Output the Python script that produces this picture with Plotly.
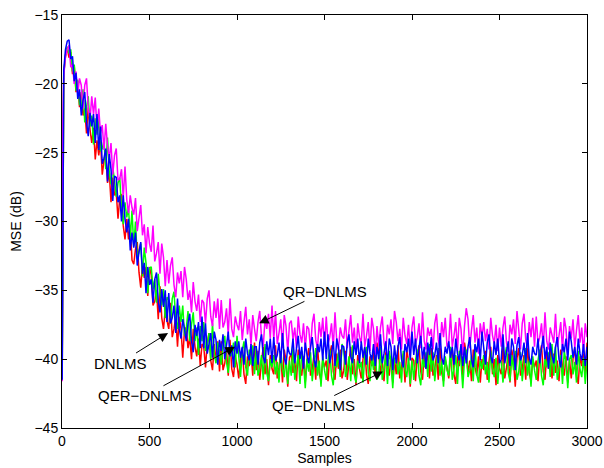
import plotly.graph_objects as go

# Sample index of each stored MSE value
SAMPLES = [1, 5] + list(range(10, 3001, 10))

# MSE learning curves in dB (one row per 100 samples after the first two points)
DNLMS = [
    -41.5, -23.0,
    -19.2, -18.0, -17.4, -18.1, -17.7, -19.3, -18.7, -20.6, -19.8, -21.7,
    -20.6, -22.3, -21.8, -23.6, -21.7, -23.3, -24.3, -23.2, -25.5, -24.1,
    -25.2, -24.2, -26.6, -25.6, -24.9, -27.2, -26.4, -28.6, -26.8, -28.1,
    -27.9, -29.8, -28.3, -28.0, -30.3, -31.3, -29.8, -31.3, -30.3, -32.8,
    -33.1, -32.0, -31.5, -33.7, -34.8, -33.1, -34.1, -33.3, -35.4, -33.3,
    -33.9, -36.1, -35.8, -35.0, -37.1, -34.7, -37.0, -37.8, -36.4, -37.2,
    -37.8, -35.9, -38.4, -37.8, -36.9, -39.1, -36.9, -37.8, -39.9, -37.9,
    -37.7, -39.2, -38.4, -40.0, -37.8, -39.1, -39.8, -38.5, -40.5, -38.9,
    -39.1, -40.6, -38.8, -38.1, -40.1, -40.8, -38.9, -40.1, -38.7, -40.9,
    -38.7, -40.8, -40.3, -39.3, -41.2, -38.6, -40.7, -41.3, -39.8, -40.4,
    -41.4, -40.0, -39.2, -41.1, -41.8, -39.8, -40.5, -39.4, -41.2, -38.8,
    -40.8, -39.4, -41.5, -40.2, -39.1, -41.1, -40.0, -41.9, -39.7, -40.7,
    -41.1, -39.0, -41.4, -40.6, -39.6, -41.7, -39.3, -40.1, -42.0, -39.9,
    -39.6, -41.0, -40.1, -41.6, -39.3, -40.6, -41.2, -39.8, -41.7, -40.0,
    -39.2, -41.2, -40.7, -39.7, -41.5, -38.9, -41.0, -41.6, -40.0, -40.6,
    -40.1, -41.6, -39.7, -39.0, -40.9, -41.5, -39.6, -40.7, -39.3, -41.4,
    -40.8, -39.4, -41.5, -40.2, -39.1, -41.1, -40.0, -41.9, -39.7, -40.7,
    -41.4, -40.0, -39.2, -41.1, -41.8, -39.8, -40.5, -39.4, -41.2, -38.8,
    -39.6, -41.0, -40.1, -41.6, -39.3, -40.6, -41.2, -39.8, -41.7, -40.0,
    -41.1, -39.0, -41.4, -40.6, -39.6, -41.7, -39.3, -40.1, -42.0, -39.9,
    -40.1, -41.6, -39.7, -39.0, -40.9, -41.5, -39.6, -40.7, -39.3, -41.4,
    -39.2, -41.2, -40.7, -39.7, -41.5, -38.9, -41.0, -41.6, -40.0, -40.6,
    -41.4, -40.0, -39.2, -41.1, -41.8, -39.8, -40.5, -39.4, -41.2, -38.8,
    -39.6, -41.0, -40.1, -41.6, -39.3, -40.6, -41.2, -39.8, -41.7, -40.0,
    -40.8, -39.4, -41.5, -40.2, -39.1, -41.1, -40.0, -41.9, -39.7, -40.7,
    -41.1, -39.0, -41.4, -40.6, -39.6, -41.7, -39.3, -40.1, -42.0, -39.9,
    -39.2, -41.2, -40.7, -39.7, -41.5, -38.9, -41.0, -41.6, -40.0, -40.6,
    -40.1, -41.6, -39.7, -39.0, -40.9, -41.5, -39.6, -40.7, -39.3, -41.4,
    -39.6, -41.0, -40.1, -41.6, -39.3, -40.6, -41.2, -39.8, -41.7, -40.0,
    -41.4, -40.0, -39.2, -41.1, -41.8, -39.8, -40.5, -39.4, -41.2, -38.8,
]

QE_DNLMS = [
    -41.4, -23.2,
    -19.3, -17.9, -17.3, -17.8, -17.5, -19.1, -18.6, -20.5, -19.7, -21.5,
    -21.6, -20.4, -22.8, -21.7, -20.9, -23.1, -22.3, -24.4, -22.5, -23.7,
    -22.5, -24.9, -24.7, -24.1, -26.2, -23.9, -26.4, -27.3, -26.1, -27.0,
    -28.2, -27.2, -26.8, -29.1, -30.2, -28.6, -29.7, -29.0, -31.2, -29.2,
    -31.8, -30.0, -32.7, -32.2, -31.6, -34.0, -31.9, -33.0, -35.2, -33.4,
    -33.3, -34.9, -34.2, -35.9, -33.8, -35.3, -36.1, -34.9, -37.0, -35.5,
    -35.7, -37.4, -35.6, -35.1, -37.1, -37.8, -36.1, -37.3, -36.1, -38.3,
    -37.8, -36.5, -38.7, -37.5, -36.6, -38.7, -37.7, -39.7, -37.6, -38.7,
    -37.3, -39.4, -39.0, -38.1, -40.0, -37.4, -39.6, -40.3, -38.8, -39.5,
    -40.4, -39.0, -38.3, -40.2, -41.0, -39.1, -39.8, -38.8, -40.6, -38.3,
    -39.8, -41.3, -39.4, -38.7, -40.6, -41.2, -39.3, -40.4, -39.0, -41.1,
    -39.2, -41.2, -40.7, -39.7, -41.5, -38.9, -41.0, -41.6, -40.0, -40.6,
    -39.7, -41.1, -40.2, -41.7, -39.4, -40.7, -41.3, -39.9, -41.8, -40.1,
    -41.2, -39.1, -41.5, -40.7, -39.7, -41.8, -39.4, -40.2, -42.1, -40.0,
    -40.9, -39.5, -41.6, -40.3, -39.2, -41.2, -40.1, -42.0, -39.8, -40.8,
    -41.5, -40.1, -39.3, -41.2, -41.9, -39.9, -40.6, -39.5, -41.3, -38.9,
    -39.3, -41.3, -40.8, -39.8, -41.6, -39.0, -41.1, -41.7, -40.1, -40.7,
    -40.2, -41.7, -39.8, -39.1, -41.0, -41.6, -39.7, -40.8, -39.4, -41.5,
    -41.2, -39.1, -41.5, -40.7, -39.7, -41.8, -39.4, -40.2, -42.1, -40.0,
    -39.7, -41.1, -40.2, -41.7, -39.4, -40.7, -41.3, -39.9, -41.8, -40.1,
    -41.5, -40.1, -39.3, -41.2, -41.9, -39.9, -40.6, -39.5, -41.3, -38.9,
    -40.9, -39.5, -41.6, -40.3, -39.2, -41.2, -40.1, -42.0, -39.8, -40.8,
    -41.2, -39.1, -41.5, -40.7, -39.7, -41.8, -39.4, -40.2, -42.1, -40.0,
    -39.3, -41.3, -40.8, -39.8, -41.6, -39.0, -41.1, -41.7, -40.1, -40.7,
    -39.7, -41.1, -40.2, -41.7, -39.4, -40.7, -41.3, -39.9, -41.8, -40.1,
    -40.2, -41.7, -39.8, -39.1, -41.0, -41.6, -39.7, -40.8, -39.4, -41.5,
    -40.9, -39.5, -41.6, -40.3, -39.2, -41.2, -40.1, -42.0, -39.8, -40.8,
    -41.5, -40.1, -39.3, -41.2, -41.9, -39.9, -40.6, -39.5, -41.3, -38.9,
    -41.2, -39.1, -41.5, -40.7, -39.7, -41.8, -39.4, -40.2, -42.1, -40.0,
    -39.7, -41.1, -40.2, -41.7, -39.4, -40.7, -41.3, -39.9, -41.8, -40.1,
]

QR_DNLMS = [
    -41.6, -22.6,
    -19.4, -18.0, -17.5, -17.2, -18.8, -18.6, -20.0, -19.1, -20.7, -19.6,
    -20.1, -21.8, -20.1, -19.6, -21.8, -22.6, -20.9, -22.2, -21.0, -23.3,
    -21.8, -23.6, -23.0, -24.8, -22.9, -24.5, -25.4, -24.3, -26.6, -25.2,
    -24.7, -27.0, -26.9, -26.2, -28.3, -26.0, -28.4, -29.4, -28.1, -29.0,
    -29.5, -28.3, -30.7, -29.6, -28.8, -31.0, -30.2, -32.3, -30.4, -31.6,
    -32.2, -30.3, -32.9, -32.3, -31.5, -33.8, -31.6, -32.6, -34.7, -32.8,
    -34.5, -33.2, -32.6, -34.6, -35.5, -33.7, -34.5, -33.6, -35.5, -33.3,
    -34.2, -35.7, -35.0, -36.6, -34.4, -35.8, -36.5, -35.3, -37.3, -35.7,
    -35.9, -37.4, -35.6, -35.0, -36.9, -37.6, -35.8, -37.0, -35.6, -37.8,
    -35.7, -37.7, -37.3, -36.3, -38.2, -35.6, -37.8, -38.4, -36.9, -37.5,
    -37.9, -36.5, -38.6, -37.3, -36.2, -38.2, -37.1, -39.0, -36.8, -37.8,
    -38.7, -37.3, -36.5, -38.4, -39.1, -37.1, -37.8, -36.7, -38.5, -36.1,
    -38.6, -36.5, -38.9, -38.1, -37.1, -39.2, -36.8, -37.6, -39.5, -37.4,
    -37.2, -38.6, -37.7, -39.2, -36.9, -38.2, -38.8, -37.4, -39.3, -37.6,
    -37.8, -39.3, -37.4, -36.7, -38.6, -39.2, -37.3, -38.4, -37.0, -39.1,
    -36.9, -38.9, -38.4, -37.4, -39.2, -36.6, -38.7, -39.3, -37.7, -38.3,
    -38.5, -37.1, -39.2, -37.9, -36.8, -38.8, -37.7, -39.6, -37.4, -38.4,
    -38.8, -36.7, -39.1, -38.3, -37.3, -39.4, -37.0, -37.8, -39.7, -37.6,
    -39.1, -37.7, -36.9, -38.8, -39.5, -37.5, -38.2, -37.1, -38.9, -36.5,
    -37.3, -38.7, -37.8, -39.3, -37.0, -38.3, -38.9, -37.5, -39.4, -37.7,
    -36.9, -38.9, -38.4, -37.4, -39.2, -36.6, -38.7, -39.3, -37.7, -38.3,
    -37.8, -39.3, -37.4, -36.7, -38.6, -39.2, -37.3, -38.4, -37.0, -39.1,
    -38.8, -36.7, -39.1, -38.3, -37.3, -39.4, -37.0, -37.8, -39.7, -37.6,
    -36.3, -37.1, -39.2, -37.9, -36.8, -38.8, -37.7, -39.6, -37.4, -38.4,
    -37.3, -38.7, -37.8, -39.3, -37.0, -38.3, -38.9, -37.5, -39.4, -37.7,
    -39.1, -37.7, -36.9, -38.8, -39.5, -37.5, -38.2, -37.1, -38.9, -36.5,
    -37.8, -39.3, -37.4, -36.7, -38.6, -39.2, -37.3, -38.4, -37.0, -39.1,
    -36.9, -38.9, -38.4, -37.4, -39.2, -36.6, -38.7, -39.3, -37.7, -38.3,
    -38.8, -36.7, -39.1, -38.3, -37.3, -39.4, -37.0, -37.8, -39.7, -37.6,
    -38.5, -37.1, -39.2, -37.9, -36.8, -38.8, -37.7, -39.6, -37.4, -38.4,
]

QER_DNLMS = [
    -41.5, -22.8,
    -19.0, -17.5, -16.9, -16.8, -18.2, -18.0, -19.8, -19.2, -21.1, -20.4,
    -22.3, -21.2, -20.6, -22.8, -23.8, -22.1, -23.1, -22.2, -24.3, -22.2,
    -24.8, -23.1, -25.8, -25.4, -24.7, -27.1, -25.1, -26.2, -28.5, -26.7,
    -26.8, -28.6, -28.1, -30.0, -28.1, -29.8, -30.8, -29.8, -32.1, -30.8,
    -31.9, -30.8, -33.2, -32.2, -31.5, -33.8, -33.0, -35.2, -33.3, -34.6,
    -34.2, -35.9, -34.2, -33.7, -35.8, -36.6, -34.9, -36.2, -35.0, -37.3,
    -35.2, -37.4, -37.0, -36.1, -38.1, -35.6, -37.8, -38.5, -37.1, -37.8,
    -38.7, -37.4, -36.7, -38.7, -39.5, -37.5, -38.3, -37.3, -39.2, -36.9,
    -39.2, -37.4, -39.6, -38.9, -38.1, -39.9, -38.0, -38.6, -40.4, -38.6,
    -39.4, -38.2, -40.0, -39.0, -38.0, -39.8, -39.0, -40.6, -38.7, -39.6,
    -38.7, -39.9, -39.1, -40.4, -38.5, -39.6, -40.1, -38.9, -40.5, -39.1,
    -39.1, -40.4, -38.8, -38.2, -39.8, -40.3, -38.7, -39.7, -38.5, -40.3,
    -38.4, -40.1, -39.7, -38.8, -40.3, -38.1, -39.9, -40.4, -39.1, -39.6,
    -39.7, -38.5, -40.3, -39.2, -38.3, -40.0, -39.1, -40.7, -38.8, -39.7,
    -40.3, -39.1, -38.4, -40.0, -40.6, -38.9, -39.5, -38.5, -40.1, -38.0,
    -40.0, -38.2, -40.3, -39.6, -38.7, -40.5, -38.5, -39.1, -40.8, -39.0,
    -39.1, -40.4, -38.8, -38.2, -39.8, -40.3, -38.7, -39.7, -38.5, -40.3,
    -38.7, -39.9, -39.1, -40.4, -38.5, -39.6, -40.1, -38.9, -40.5, -39.1,
    -40.0, -38.2, -40.3, -39.6, -38.7, -40.5, -38.5, -39.1, -40.8, -39.0,
    -40.3, -39.1, -38.4, -40.0, -40.6, -38.9, -39.5, -38.5, -40.1, -38.0,
    -39.7, -38.5, -40.3, -39.2, -38.3, -40.0, -39.1, -40.7, -38.8, -39.7,
    -38.4, -40.1, -39.7, -38.8, -40.3, -38.1, -39.9, -40.4, -39.1, -39.6,
    -38.7, -39.9, -39.1, -40.4, -38.5, -39.6, -40.1, -38.9, -40.5, -39.1,
    -40.3, -39.1, -38.4, -40.0, -40.6, -38.9, -39.5, -38.5, -40.1, -38.0,
    -39.1, -40.4, -38.8, -38.2, -39.8, -40.3, -38.7, -39.7, -38.5, -40.3,
    -40.0, -38.2, -40.3, -39.6, -38.7, -40.5, -38.5, -39.1, -40.8, -39.0,
    -38.4, -40.1, -39.7, -38.8, -40.3, -38.1, -39.9, -40.4, -39.1, -39.6,
    -39.7, -38.5, -40.3, -39.2, -38.3, -40.0, -39.1, -40.7, -38.8, -39.7,
    -40.3, -39.1, -38.4, -40.0, -40.6, -38.9, -39.5, -38.5, -40.1, -38.0,
    -38.7, -39.9, -39.1, -40.4, -38.5, -39.6, -40.1, -38.9, -40.5, -39.1,
]

X_TICKS = [0, 500, 1000, 1500, 2000, 2500, 3000]
Y_TICKS = [-45, -40, -35, -30, -25, -20, -15]

# Drawing order: later traces sit on top
SERIES = [
    ("DNLMS", DNLMS, "#ff0000"),
    ("QE-DNLMS", QE_DNLMS, "#00ff00"),
    ("QR-DNLMS", QR_DNLMS, "#ff00ff"),
    ("QER-DNLMS", QER_DNLMS, "#0000ff"),
]

# Callout labels: text, target sample, target MSE, text offset in px
CALLOUTS = [
    ("QR\u2212DNLMS", 1126, -37.4, 66, -32),
    ("DNLMS", 606, -38.1, -48, 30),
    ("QER\u2212DNLMS", 989, -39.1, -90, 49),
    ("QE\u2212DNLMS", 1834, -40.9, -69, 34),
]

FONT = "Liberation Sans, Arial, Helvetica, sans-serif"

fig = go.Figure()
for name, values, color in SERIES:
    fig.add_trace(go.Scatter(
        x=SAMPLES, y=values, mode="lines", name=name,
        line=dict(color=color, width=1.5),
        hoverinfo="skip",
    ))

for text, sx, sy, ax, ay in CALLOUTS:
    fig.add_annotation(
        x=sx, y=sy, xref="x", yref="y", text=text,
        showarrow=True, ax=ax, ay=ay, axref="pixel", ayref="pixel",
        arrowhead=2, arrowsize=1.9, arrowwidth=1, arrowcolor="black",
        font=dict(family=FONT, size=15, color="black"),
    )

axis_common = dict(
    showline=True, linecolor="black", linewidth=1, mirror="ticks",
    ticks="inside", ticklen=5, tickcolor="black", tickwidth=1,
    showgrid=False, zeroline=False, automargin=False,
    tickfont=dict(family=FONT, size=14, color="black"),
)

fig.update_xaxes(
    range=[0, 3000], tickvals=X_TICKS,
    title=dict(text="Samples", font=dict(family=FONT, size=14, color="black"), standoff=5),
    **axis_common,
)
fig.update_yaxes(
    range=[-45, -15], tickvals=Y_TICKS,
    title=dict(text="MSE (dB)", font=dict(family=FONT, size=14, color="black"), standoff=9),
    **axis_common,
)

fig.update_layout(
    width=604, height=468,
    margin=dict(l=62, r=17, t=15, b=40),
    plot_bgcolor="white", paper_bgcolor="white",
    showlegend=False,
)

fig.write_html("out.html")
